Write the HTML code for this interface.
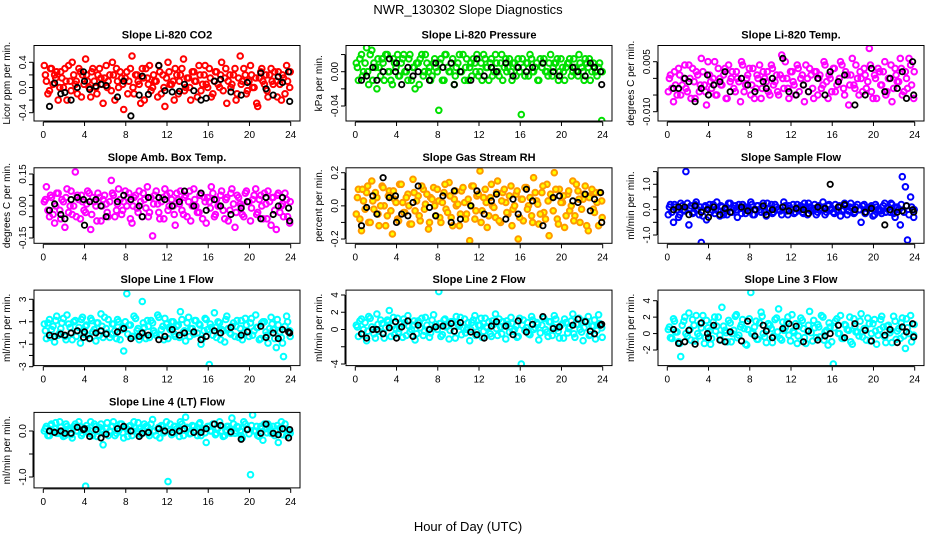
<!DOCTYPE html>
<html><head><meta charset="utf-8"><style>
html,body{margin:0;padding:0;background:#fff;}
svg{display:block;font-family:"Liberation Sans",Arial,sans-serif;}
</style></head><body>
<svg id="chart" width="936" height="540" viewBox="0 0 936 540">
<rect x="0" y="0" width="936" height="540" fill="#fff"/>
<text x="468" y="14" text-anchor="middle" font-size="13">NWR_130302  Slope Diagnostics</text>
<text x="468" y="531" text-anchor="middle" font-size="13">Hour of Day (UTC)</text>
</svg>
<script>
const hours=[0.1,0.3,0.6,0.8,1.1,1.3,1.6,1.8,2.1,2.3,2.6,2.8,3.1,3.3,3.6,3.8,4.1,4.3,4.6,4.8,5.1,5.3,5.6,5.8,6.1,6.3,6.6,6.8,7.1,7.3,7.6,7.8,8.1,8.3,8.6,8.8,9.1,9.3,9.6,9.8,10.1,10.3,10.6,10.8,11.1,11.3,11.6,11.8,12.1,12.3,12.6,12.8,13.1,13.3,13.6,13.8,14.1,14.3,14.6,14.8,15.1,15.3,15.6,15.8,16.1,16.3,16.6,16.8,17.1,17.3,17.6,17.8,18.1,18.3,18.6,18.8,19.1,19.3,19.6,19.8,20.1,20.3,20.6,20.8,21.1,21.3,21.6,21.8,22.1,22.3,22.6,22.8,23.1,23.3,23.6,23.9];
const hoursB=[0.2,0.45,0.7,0.95,1.2,1.45,1.7,1.95,2.2,2.45,2.7,2.95,3.2,3.45,3.7,3.95,4.2,4.45,4.7,4.95,5.2,5.45,5.7,5.95,6.2,6.45,6.7,6.95,7.2,7.45,7.7,7.95,8.2,8.45,8.7,8.95,9.2,9.45,9.7,9.95,10.2,10.45,10.7,10.95,11.2,11.45,11.7,11.95,12.2,12.45,12.7,12.95,13.2,13.45,13.7,13.95,14.2,14.45,14.7,14.95,15.2,15.45,15.7,15.95,16.2,16.45,16.7,16.95,17.2,17.45,17.7,17.95,18.2,18.45,18.7,18.95,19.2,19.45,19.7,19.95,20.2,20.45,20.7,20.95,21.2,21.45,21.7,21.95,22.2,22.45,22.7,22.95,23.2,23.45,23.7,23.95];
const blackHours=[0.6,1.1,1.7,2.1,2.7,3.3,3.9,4.0,4.5,5.1,5.6,6.1,7.2,7.8,8.5,9.3,9.6,10.2,11.2,11.8,12.5,13.2,13.7,14.6,15.3,15.8,16.6,17.2,18.2,19.2,19.8,21.1,21.6,22.3,22.8,23.2,23.8,23.9];
const xTicks=[0,4,8,12,16,20,24];
const co2=[0.35,0.1,-0.05,0.3,0.2,0.25,0.0,0.15,0.3,-0.2,0.1,0.4,0.05,-0.1,0.25,0.2,0.45,0.1,-0.15,0.3,0.0,0.2,0.15,-0.25,0.35,0.1,-0.05,0.2,0.3,0.0,0.15,-0.35,0.25,0.1,0.5,-0.1,0.2,0.05,0.3,-0.2,0.15,0.35,0.0,0.1,-0.15,0.25,0.2,-0.3,0.4,0.05,0.1,0.3,-0.1,0.2,0.45,0.0,0.15,-0.2,0.25,0.1,0.35,-0.05,0.2,0.05,0.3,-0.15,0.1,0.25,0.0,0.4,0.15,-0.25,0.2,0.05,0.3,-0.1,0.5,0.1,0.2,-0.05,0.35,0.0,0.15,-0.3,0.25,0.1,0.2,-0.15,0.3,0.05,0.1,0.25,-0.2,0.15,0.35,0.0];
const co2B=[0.2,-0.1,0.3,0.05,0.15,-0.2,0.25,0.0,0.1,0.35,-0.05,0.2,0.1,0.3,-0.15,0.05,0.2,0.0,0.25,0.1,-0.1,0.3,0.05,0.15,0.0,0.2,0.4,-0.2,0.1,0.25,0.05,0.15,-0.1,0.3,0.0,0.2,0.1,-0.25,0.15,0.3,0.05,-0.05,0.2,0.1,0.35,-0.1,0.0,0.15,0.25,0.05,-0.2,0.2,0.1,0.3,-0.05,0.15,0.0,0.25,0.1,-0.15,0.2,0.05,0.35,0.0,0.15,-0.1,0.25,0.05,0.2,-0.05,0.3,0.1,0.0,0.2,-0.2,0.15,0.05,0.3,-0.1,0.1,0.2,0.0,-0.25,0.15,0.3,0.05,-0.05,0.2,0.1,0.25,-0.15,0.05,0.2,-0.1,0.1,0.25];
const co2Black=[-0.3,0.07,-0.1,-0.08,-0.2,0.0,0.25,0.1,-0.03,0.02,0.05,0.03,-0.15,0.1,-0.45,-0.12,0.18,-0.11,0.35,-0.05,-0.07,-0.06,0.05,-0.05,-0.2,-0.17,0.1,0.13,-0.07,-0.12,0.08,0.23,-0.02,-0.12,0.17,0.08,0.25,-0.22];
const pres=[0.01,-0.01,0.02,0.0,0.028,-0.015,0.025,0.01,-0.02,0.005,0.015,-0.01,0.02,0.0,-0.015,0.01,0.02,-0.005,0.015,0.0,-0.01,0.02,0.005,-0.02,0.01,0.015,-0.005,0.02,0.0,-0.01,0.01,0.005,-0.045,0.015,-0.01,0.02,0.0,0.01,-0.015,0.005,0.02,0.0,-0.01,0.015,0.005,-0.005,0.01,0.02,0.0,-0.01,0.015,0.005,0.01,-0.005,0.02,0.0,0.01,-0.01,0.015,0.005,0.0,0.01,-0.005,0.015,-0.05,0.005,0.01,-0.005,0.015,0.0,0.01,-0.01,0.005,0.015,0.0,0.01,-0.005,0.01,0.015,0.0,0.005,-0.01,0.01,0.015,0.0,0.005,-0.005,0.01,0.0,0.015,0.005,-0.01,0.01,0.0,0.005,-0.057];
const presB=[0.005,0.015,-0.005,0.01,0.0,0.02,-0.01,0.005,0.015,-0.005,0.01,0.02,0.0,-0.01,0.015,0.005,-0.005,0.01,0.02,0.0,0.015,-0.01,0.005,0.01,-0.015,0.02,0.0,0.01,0.005,-0.005,0.015,0.0,0.01,-0.01,0.02,0.005,0.0,0.015,-0.005,0.01,0.0,0.02,0.005,-0.01,0.01,0.015,0.0,-0.005,0.01,0.02,0.005,-0.01,0.015,0.0,0.01,-0.005,0.02,0.005,0.0,0.015,-0.01,0.01,0.005,0.0,0.015,-0.005,0.01,0.02,0.0,0.005,-0.01,0.015,0.01,0.0,-0.005,0.02,0.005,0.01,-0.01,0.015,0.0,0.005,0.01,-0.005,0.015,0.0,0.02,0.005,-0.01,0.01,0.015,0.0,0.005,-0.005,0.01,0.0];
const presBlack=[-0.01,-0.005,0.005,-0.01,0.0,0.015,0.0,0.01,-0.015,0.005,-0.005,0.0,-0.01,0.01,0.005,0.01,-0.015,0.0,-0.01,0.015,-0.005,0.005,0.0,0.01,-0.005,0.005,0.0,0.005,0.01,0.0,-0.005,0.005,0.0,-0.005,0.01,0.005,0.0,-0.015];
const temp=[-0.004,0.001,-0.007,-0.002,0.003,-0.005,0.0,-0.003,0.004,-0.006,-0.001,0.002,-0.004,0.006,-0.002,-0.008,0.001,-0.003,0.005,-0.005,0.0,-0.002,0.003,-0.006,-0.001,0.002,-0.004,0.0,-0.007,0.004,-0.002,0.001,-0.005,0.003,-0.003,0.0,-0.006,0.002,-0.001,-0.004,0.004,-0.002,0.001,-0.005,0.007,-0.003,0.0,-0.006,0.002,-0.002,0.004,-0.004,0.001,-0.007,0.0,0.003,-0.003,0.002,-0.005,0.001,-0.002,0.004,-0.006,0.0,0.003,-0.004,-0.001,0.005,-0.003,0.002,-0.008,0.001,-0.002,0.004,-0.005,0.0,0.003,-0.003,0.009,-0.004,0.001,-0.006,0.002,-0.002,0.005,-0.004,0.0,-0.007,0.003,-0.001,0.006,-0.005,0.002,-0.003,0.004,-0.006];
const tempB=[0.0,-0.003,0.002,-0.005,0.001,-0.002,0.004,-0.004,0.0,0.003,-0.006,0.001,-0.002,0.002,-0.004,0.005,-0.001,0.0,-0.005,0.003,-0.002,0.001,-0.006,0.004,0.0,-0.003,0.002,-0.001,0.005,-0.004,0.0,0.003,-0.002,-0.006,0.001,0.004,-0.003,0.0,0.002,-0.005,0.003,-0.001,-0.004,0.001,0.0,0.005,-0.003,0.002,-0.001,-0.005,0.003,0.0,-0.002,0.004,-0.004,0.001,-0.006,0.002,0.0,-0.003,0.005,-0.001,0.001,-0.004,0.003,-0.002,0.0,0.004,-0.005,0.001,-0.002,0.006,-0.003,0.0,0.002,-0.004,0.001,-0.001,0.004,-0.006,0.0,0.003,-0.002,0.002,-0.005,0.0,0.004,-0.003,0.001,-0.001,0.003,-0.004,0.0,0.006,-0.002,0.002];
const tempBlack=[-0.003,-0.003,0.0,-0.001,-0.007,-0.003,0.001,-0.005,-0.002,-0.001,0.002,-0.004,0.0,-0.002,-0.004,-0.001,-0.003,0.0,0.006,-0.004,-0.005,-0.002,-0.004,0.0,-0.005,0.002,-0.001,0.001,-0.008,-0.005,0.003,-0.004,0.0,-0.003,0.002,-0.006,0.005,-0.005];
const amb=[0.02,0.09,-0.05,0.04,-0.08,0.06,-0.02,0.03,-0.1,0.08,0.0,-0.04,0.16,0.05,-0.06,0.02,-0.03,0.07,-0.11,0.04,0.0,0.06,-0.07,0.03,0.01,-0.05,0.12,0.05,-0.02,0.08,-0.04,0.02,0.0,0.06,-0.08,0.04,-0.01,0.07,-0.05,0.03,0.09,-0.03,-0.14,0.05,0.01,-0.06,0.04,0.08,-0.02,0.06,0.0,-0.09,0.03,0.07,-0.04,0.05,0.02,-0.07,0.08,0.0,-0.03,0.06,0.04,-0.08,0.02,0.09,-0.05,0.03,0.0,0.07,-0.06,0.04,-0.02,0.08,-0.1,0.05,0.01,-0.04,0.06,0.02,-0.07,0.03,0.08,-0.03,0.05,-0.06,0.01,0.07,-0.09,0.04,-0.11,0.06,0.0,-0.05,0.03,-0.08];
const ambB=[0.03,-0.02,0.05,-0.04,0.0,0.06,-0.06,0.02,0.04,-0.03,0.07,0.0,-0.05,0.03,0.05,-0.02,0.01,0.06,-0.04,0.02,-0.07,0.04,0.0,0.05,-0.03,0.02,0.06,-0.05,0.01,0.03,-0.02,0.07,0.04,-0.06,0.0,0.05,-0.03,0.02,0.06,-0.01,-0.05,0.04,0.01,0.07,-0.03,0.02,-0.06,0.05,0.0,0.03,-0.04,0.06,0.01,-0.02,0.04,-0.05,0.07,0.0,0.03,-0.03,0.05,-0.06,0.02,0.04,-0.01,0.06,-0.04,0.0,0.05,-0.02,0.03,-0.07,0.06,0.01,-0.03,0.04,0.0,-0.05,0.07,0.02,-0.01,0.05,-0.04,0.03,0.0,0.06,-0.06,0.02,0.04,-0.02,0.05,-0.03,0.01,0.06,-0.05,0.02];
const ambBlack=[-0.02,0.01,-0.04,-0.06,0.03,0.04,0.03,-0.09,0.02,0.03,0.0,-0.05,0.02,0.05,0.03,0.0,-0.05,0.04,0.04,0.03,0.0,0.02,0.07,0.0,0.06,-0.02,0.03,0.0,-0.04,-0.01,0.02,-0.06,0.04,-0.04,0.0,0.04,-0.01,-0.07];
const rh=[-0.05,0.1,-0.15,0.03,0.08,-0.1,0.15,-0.02,0.05,-0.12,0.12,0.0,-0.06,0.09,-0.17,0.04,-0.08,0.13,0.02,-0.04,0.07,-0.11,0.16,-0.03,0.06,-0.09,0.1,0.01,-0.14,0.05,0.11,-0.06,0.03,-0.1,0.08,-0.02,0.14,-0.07,0.04,0.0,-0.12,0.09,0.02,-0.05,-0.21,0.12,-0.08,0.06,0.21,-0.03,0.1,-0.13,0.05,0.0,-0.07,0.15,-0.1,0.08,0.02,-0.05,0.12,-0.02,0.07,-0.2,0.04,-0.09,0.11,0.0,-0.06,0.17,0.03,-0.11,0.08,-0.04,0.13,-0.18,0.05,0.2,-0.08,0.1,0.02,-0.13,0.07,-0.03,0.15,-0.06,0.09,-0.1,0.04,0.12,-0.15,0.06,-0.02,0.08,-0.12,0.03];
const rhB=[0.05,-0.08,0.1,-0.02,0.12,-0.1,0.03,0.08,-0.05,0.0,0.11,-0.12,0.06,-0.03,0.09,0.02,-0.09,0.13,-0.04,0.05,0.0,-0.11,0.08,0.03,-0.06,0.12,-0.02,0.07,-0.1,0.04,0.0,0.1,-0.07,0.02,0.13,-0.04,0.06,-0.12,0.09,0.01,-0.05,0.11,-0.08,0.04,0.0,0.12,-0.03,0.07,-0.1,0.05,0.02,-0.06,0.13,-0.01,0.08,-0.09,0.03,0.1,-0.04,0.06,-0.12,0.0,0.09,-0.07,0.04,0.11,-0.02,0.05,-0.1,0.08,0.01,-0.05,0.12,-0.08,0.03,0.07,-0.03,0.1,-0.11,0.02,0.06,-0.06,0.09,0.0,-0.09,0.13,0.04,-0.02,0.07,-0.12,0.05,0.1,-0.04,0.02,0.08,-0.07];
const rhBlack=[-0.12,-0.01,0.06,-0.05,0.17,0.05,0.06,-0.1,-0.05,-0.06,0.02,0.12,-0.01,-0.06,0.06,-0.1,0.09,-0.08,0.0,0.09,-0.05,0.03,0.07,-0.08,0.04,-0.05,0.1,0.03,-0.12,0.05,0.06,0.03,0.02,0.07,-0.03,0.04,0.08,-0.1];
const sflow=[-0.2,0.2,-0.5,0.1,-0.3,0.25,0.0,1.5,-0.6,0.15,-0.1,0.3,-0.2,-1.3,0.1,-0.4,0.2,0.0,-0.15,0.3,-0.25,0.1,0.0,-0.2,0.25,-0.1,0.15,-0.3,0.05,0.2,-0.15,0.1,0.3,-0.2,0.0,0.15,-0.1,0.25,-0.25,0.05,0.2,-0.1,0.1,0.0,-0.2,0.3,-0.05,0.15,0.0,-0.15,0.2,0.05,-0.1,0.25,-0.2,0.1,0.0,0.2,-0.1,0.05,0.3,-0.2,0.15,0.0,-0.1,0.2,0.1,-0.25,0.0,0.15,-0.05,0.25,-0.15,0.1,0.0,-0.5,0.2,-0.1,0.05,0.15,-0.2,0.1,0.0,-0.15,0.25,0.05,-0.1,0.2,-0.3,0.1,-0.6,1.3,0.9,-1.2,0.5,-0.3];
const sflowB=[0.1,-0.1,0.2,0.0,-0.2,0.15,-0.05,0.25,0.05,-0.15,0.2,0.0,0.1,-0.25,0.15,0.05,-0.1,0.2,0.0,-0.05,0.15,-0.2,0.1,0.25,-0.1,0.05,0.0,0.2,-0.15,0.1,0.05,-0.05,0.2,-0.2,0.15,0.0,0.1,-0.1,0.25,0.05,-0.15,0.2,0.0,-0.05,0.1,0.15,-0.2,0.05,0.2,-0.1,0.0,0.15,-0.15,0.1,0.25,-0.05,0.05,-0.2,0.15,0.0,0.1,-0.1,0.2,0.05,-0.15,0.0,0.15,-0.05,0.25,-0.2,0.1,0.05,-0.1,0.2,0.0,0.15,-0.15,0.05,0.1,-0.25,0.2,0.0,-0.05,0.15,-0.1,0.1,0.25,-0.15,0.05,0.0,0.2,-0.1,0.15,-0.2,0.1,0.0];
const sflowBlack=[0.0,0.1,0.1,-0.2,0.15,-0.1,0.0,-0.3,0.1,-0.2,0.05,-0.1,0.1,-0.05,0.0,0.15,-0.2,0.0,0.1,-0.05,0.05,0.0,-0.15,0.1,0.05,1.0,0.1,0.2,0.0,-0.1,0.05,-0.6,0.0,-0.1,-0.05,0.15,0.0,-0.1];
const line1=[0.8,-0.5,1.2,0.3,-0.8,1.5,0.0,0.9,-0.3,1.6,0.5,-0.6,1.1,0.2,-0.9,1.4,0.6,-0.2,1.3,0.1,-0.7,0.9,1.7,-0.4,0.4,1.2,-0.1,0.8,-0.5,1.0,0.3,-1.6,3.5,0.7,-0.3,1.5,0.2,-0.6,2.8,0.5,1.1,-0.4,0.9,0.0,1.6,-0.2,0.6,1.3,-0.5,0.3,1.0,-0.3,0.7,1.9,0.1,-0.7,1.4,0.4,-0.1,1.1,0.8,-1.0,0.2,1.2,-2.8,0.5,1.8,-0.4,0.9,0.3,-0.8,1.5,0.0,0.6,-0.3,1.1,0.4,-0.6,1.3,0.2,0.9,-0.2,1.6,0.5,-0.5,1.0,0.1,-0.9,1.4,0.3,-1.3,0.7,-0.4,-2.1,1.5,0.2];
const line1B=[0.2,0.9,-0.4,0.6,1.1,-0.2,0.4,1.3,-0.6,0.8,0.0,1.0,-0.3,0.5,1.2,-0.1,0.7,-0.5,1.1,0.3,0.9,-0.2,0.6,1.4,0.0,-0.4,0.8,0.2,1.2,-0.6,0.5,1.0,-0.1,0.7,-0.3,1.3,0.4,0.0,0.9,-0.5,0.6,1.1,0.2,-0.2,1.4,0.3,-0.6,0.8,0.5,1.0,-0.1,0.6,-0.4,1.2,0.2,0.9,-0.3,0.4,1.1,0.0,0.7,-0.5,1.3,0.3,0.8,-0.2,0.5,1.0,-0.6,0.2,1.2,0.4,-0.1,0.9,0.6,-0.4,1.1,0.0,0.7,-0.3,1.3,0.2,0.5,-0.6,0.9,1.0,-0.2,0.4,0.8,-0.5,1.2,0.1,-0.9,0.6,1.0,-0.3];
const line1Black=[-0.2,-0.3,-0.1,-0.2,0.0,0.2,-0.4,0.1,-0.5,0.0,0.2,-0.1,0.1,0.4,-0.5,-0.3,0.0,-0.2,-0.6,-0.3,0.3,-0.2,0.0,0.1,-0.6,-0.3,0.2,0.0,0.5,-0.2,0.1,0.6,-0.4,0.0,-0.5,0.3,0.1,0.0];
const line2=[0.5,-0.8,1.2,0.0,-1.3,1.5,0.3,-0.5,1.8,-0.2,0.7,-1.0,1.1,2.2,0.4,-0.6,1.3,0.1,-0.9,0.8,1.6,-0.3,0.5,-1.2,1.0,0.2,-0.7,1.4,0.0,-0.4,1.7,0.6,4.4,-0.8,1.1,0.3,-1.1,0.9,-0.2,1.5,0.4,-0.6,1.2,0.0,-1.3,0.8,1.6,-0.3,0.5,-0.9,1.3,0.2,-0.5,1.0,1.8,-0.7,0.3,0.9,-1.1,0.6,1.4,-0.2,0.4,-0.8,-4.0,1.1,0.2,-0.5,1.5,0.0,0.8,-1.2,0.5,1.3,-0.3,0.9,-0.7,1.6,0.2,-1.0,0.7,1.2,-0.4,0.3,1.8,-0.9,0.6,0.0,-1.3,1.0,1.5,-0.6,0.4,-1.1,1.7,0.2];
const line2B=[0.3,1.0,-0.6,0.8,-0.2,1.3,0.0,-1.0,0.6,1.1,-0.4,0.2,0.9,-0.8,1.4,0.1,-0.3,0.7,1.2,-0.7,0.4,0.0,1.0,-0.5,0.8,1.3,-0.2,0.5,-0.9,1.1,0.3,0.0,0.7,-0.6,1.2,0.4,-0.1,0.9,-1.0,0.6,1.4,0.2,-0.4,0.8,0.0,1.1,-0.7,0.5,1.3,-0.2,0.3,0.9,-0.8,0.6,0.1,1.2,-0.5,0.4,1.0,-0.3,0.7,0.0,-0.9,1.3,0.5,-0.1,0.8,-0.6,1.1,0.2,0.6,-0.4,1.4,0.0,-0.8,0.9,0.3,1.2,-0.2,0.5,-1.0,0.8,0.1,1.0,-0.5,0.6,1.3,-0.3,0.2,0.9,-0.7,0.4,1.1,-0.1,0.7,-0.9];
const line2Black=[-0.5,-1.0,0.0,0.0,-0.5,0.2,0.9,-1.0,0.3,1.0,-0.8,0.5,0.0,0.3,0.4,0.7,-0.2,0.8,-0.3,-0.6,-1.0,0.4,0.9,0.4,-0.6,1.0,-0.3,0.6,1.5,0.1,0.3,0.5,1.2,0.9,-0.2,-0.5,0.5,0.6];
const line3=[0.5,-0.5,1.8,0.2,-1.0,-2.8,1.5,0.0,2.5,-0.8,1.0,2.2,-0.3,0.7,-1.2,1.6,0.3,-0.6,2.0,0.9,-0.2,3.2,0.4,-1.0,1.3,0.0,2.1,-0.5,0.8,1.7,-1.3,0.5,5.0,0.2,1.5,-0.7,2.6,0.0,-1.1,1.2,0.6,-0.3,1.9,3.0,-0.8,0.4,1.4,-0.2,2.3,0.1,-1.2,0.9,1.6,-0.5,0.3,2.7,-0.9,0.7,1.1,-0.4,2.0,0.2,-1.4,0.8,-3.7,1.5,0.0,2.2,-0.6,1.0,0.4,-1.0,1.8,0.2,-0.3,2.4,0.6,-0.8,1.2,0.0,1.7,-1.3,0.5,2.1,-0.4,0.9,0.1,-1.1,1.5,0.3,-0.6,1.9,-1.8,0.7,2.2,-0.2];
const line3B=[0.8,-0.6,1.5,0.2,-1.2,1.0,2.0,-0.3,0.5,1.7,-0.9,0.0,1.2,2.2,-0.5,0.7,-1.3,1.4,0.3,2.0,-0.8,0.9,0.1,1.6,-1.0,0.4,2.3,-0.2,1.1,0.6,-1.4,1.8,0.0,0.8,-0.7,1.3,2.1,-0.4,0.5,1.0,-1.1,1.7,0.2,-0.6,1.4,0.7,2.0,-0.9,0.3,1.2,-0.3,1.9,0.6,-1.2,1.0,0.1,1.6,-0.5,0.8,2.2,-0.8,0.4,1.3,-1.0,0.7,1.8,0.0,-0.6,1.1,0.5,2.0,-1.3,0.9,0.2,1.5,-0.4,0.6,1.9,-0.9,1.2,0.3,-0.2,1.7,0.8,-1.1,1.0,0.4,2.1,-0.7,0.6,1.3,-0.3,1.8,0.0,-1.0,1.1];
const line3Black=[0.5,-1.2,-1.0,0.4,-1.3,1.3,0.0,-0.5,1.0,-0.8,-1.0,0.2,-0.9,1.5,-0.3,1.0,0.3,-0.5,0.6,1.2,0.9,-1.0,0.3,-0.8,-0.3,0.0,1.0,-0.5,1.2,0.4,-0.9,-0.2,0.5,-1.1,0.8,0.2,1.2,-0.4];
const line4=[0.0,0.1,-0.1,0.15,0.05,-0.05,0.2,0.0,-0.1,0.1,0.05,-0.15,0.15,0.0,0.1,-0.05,-1.2,0.05,0.2,-0.1,0.1,0.0,0.15,-0.3,0.05,-0.1,0.1,0.2,-0.05,0.0,0.15,-0.15,0.05,0.1,-0.1,0.2,0.0,0.05,-0.05,0.15,0.1,-0.1,0.25,0.0,0.05,-0.15,0.1,0.0,-1.1,0.15,-0.05,0.1,0.0,0.2,-0.1,0.3,0.05,-0.05,0.1,0.0,0.15,-0.1,0.05,-0.25,0.1,0.0,0.15,-0.05,0.2,0.0,-0.1,0.1,0.05,0.28,-0.05,0.1,0.0,-0.15,0.15,0.05,-0.95,0.35,0.0,-0.1,0.1,-0.2,0.05,0.15,-0.05,0.1,0.0,-0.25,0.2,0.05,-0.1,0.0];
const line4B=[0.05,-0.1,0.12,0.0,0.18,-0.05,0.08,-0.12,0.15,0.02,-0.08,0.1,0.0,0.2,-0.1,0.06,0.12,-0.05,0.0,0.15,-0.12,0.08,0.02,-0.06,0.18,0.0,0.1,-0.1,0.05,0.15,-0.04,0.08,-0.12,0.12,0.0,0.06,0.18,-0.08,0.02,0.1,-0.05,0.15,0.0,-0.1,0.08,0.12,-0.04,0.2,0.0,-0.08,0.1,0.05,-0.12,0.15,0.02,0.08,-0.06,0.12,0.0,-0.1,0.18,0.05,-0.04,0.1,0.0,0.15,-0.08,0.06,0.12,-0.12,0.02,0.1,-0.05,0.15,0.0,0.08,-0.1,0.2,0.04,-0.06,0.12,0.0,0.1,-0.12,0.05,0.15,-0.04,0.08,0.0,-0.1,0.12,0.06,-0.08,0.15,0.02,-0.05];
const line4Black=[0.0,-0.03,0.0,-0.05,-0.05,0.08,0.03,0.05,-0.12,0.03,-0.15,-0.07,0.05,0.1,0.0,-0.12,-0.05,-0.03,0.05,0.0,-0.03,0.0,0.05,-0.03,-0.03,0.05,0.15,0.12,-0.02,-0.18,0.03,-0.05,0.15,-0.05,-0.08,0.05,-0.15,0.03];
const panelTitles=["Slope Li-820 CO2","Slope Li-820 Pressure","Slope Li-820 Temp.","Slope Amb. Box Temp.","Slope Gas Stream RH","Slope Sample Flow","Slope Line 1 Flow","Slope Line 2 Flow","Slope Line 3 Flow","Slope Line 4 (LT) Flow"];
const yTitles=["Licor ppm per min.","kPa per min.","degrees C per min.","degrees C per min.","percent per min.","ml/min per min.","ml/min per min.","ml/min per min.","ml/min per min.","ml/min per min."];
const yTickSets=[[-0.4,-0.2,0,0.2,0.4],[-0.04,-0.02,0,0.02],[-0.01,-0.005,0,0.005],[-0.15,-0.1,-0.05,0,0.05,0.1,0.15],[-0.2,-0.1,0,0.1,0.2],[-1,-0.5,0,0.5,1,1.5],[-3,-2,-1,0,1,2,3],[-4,-2,0,2,4],[-2,0,2,4],[-1,-0.5,0]];
const yLabelSets=[["-0.4","0.0","0.4"],["-0.04","0.00"],["-0.010","0.005"],["-0.15","0.00","0.15"],["-0.2","0.0","0.2"],["-1.0","0.0","1.0"],["-3","-1","1","3"],["-4","0","2","4"],["-2","0","2","4"],["-1.0","0.0"]];
const colored=[co2,pres,temp,amb,rh,sflow,line1,line2,line3,line4];
const coloredB=[co2B,presB,tempB,ambB,rhB,sflowB,line1B,line2B,line3B,line4B];
const blacks=[co2Black,presBlack,tempBlack,ambBlack,rhBlack,sflowBlack,line1Black,line2Black,line3Black,line4Black];
// axis calibration (layout): [value, row-relative px, value, row-relative px]
const yCal=[[0.4,62.3,-0.4,112.7],[0,71.7,-0.04,106],[0.005,61.7,-0.01,111.7],[0.15,51.7,-0.15,115.7],[0.2,50.4,-0.2,116.7],[1,62,-1,112.7],[3,54.7,-3,122.1],[4,50.4,-4,119.4],[4,56.1,-2,105.4],[0,64.1,-1,110.1]];
const strokes=["#ff0000","#00e000","#ff00ff","#ff00ff","#ff9900","#0000ff","#00ffff","#00ffff","#00ffff","#00ffff"];
const fills=["none","none","none","none","#ffff00","none","none","none","none","none"];

const NS="http://www.w3.org/2000/svg";
const svg=document.getElementById('chart');
function mk(tag,attrs,parent){const e=document.createElementNS(NS,tag);for(const k in attrs)e.setAttribute(k,attrs[k]);(parent||svg).appendChild(e);return e;}

for(let p=0;p<10;p++){
  const row=Math.floor(p/3),col=p%3;
  const L=34+col*312, W=266, rowOff=row*122.3, T=45.5+rowOff, H=75.5;
  const xs=h=>L+9.3+h*(247.4/24);
  const c=yCal[p];
  const ys=v=>rowOff+c[1]+(v-c[0])*(c[3]-c[1])/(c[2]-c[0]);
  const g=mk('g',{});
  
  
  const clipId='clip'+p;
  const cp=mk('clipPath',{id:clipId},g);
  mk('rect',{x:L,y:T,width:W,height:H},cp);
  const t=mk('text',{x:L+W/2,y:T-7,'text-anchor':'middle','font-size':11,'font-weight':'bold'},g);
  t.textContent=panelTitles[p];
  
  
  const pts=mk('g',{'clip-path':'url(#'+clipId+')'},g);
  
  
  const series=[[hours,colored[p]],[hoursB,coloredB[p]]];
  series.forEach(s=>{
    const hs=s[0],vals=s[1];
    for(let i=0;i<Math.min(vals.length,hs.length);i++){
      const cc=mk('circle',{cx:xs(hs[i]).toFixed(1),cy:ys(vals[i]).toFixed(1),r:2.8,fill:fills[p],stroke:strokes[p],'stroke-width':2},pts);
      
      
    }
  });
  const bv=blacks[p];
  for(let i=0;i<Math.min(bv.length,blackHours.length);i++){
    const cc=mk('circle',{cx:xs(blackHours[i]).toFixed(1),cy:ys(bv[i]).toFixed(1),r:2.7,fill:'none',stroke:'#000','stroke-width':1.8},pts);
    
    
  }
  const box=mk('rect',{x:L,y:T,width:W,height:H,fill:'none',stroke:'#000','stroke-width':1},g);
  
  
  const xa=mk('g',{},g);
  
  
  const ay=T+H+1;
  mk('line',{x1:xs(xTicks[0]),x2:xs(xTicks[xTicks.length-1]),y1:ay,y2:ay,stroke:'#000'},xa);
  xTicks.forEach(v=>{
    mk('line',{x1:xs(v),x2:xs(v),y1:ay,y2:ay+4,stroke:'#000'},xa);
    const tl=mk('text',{x:xs(v),y:ay+16,'text-anchor':'middle','font-size':10},xa);
    tl.textContent=v;
    
    
  });
  const ya=mk('g',{},g);
  
  
  const tk=yTickSets[p];
  mk('line',{x1:L-1,x2:L-1,y1:ys(tk[0]),y2:ys(tk[tk.length-1]),stroke:'#000'},ya);
  tk.forEach(v=>{mk('line',{x1:L-5,x2:L-1,y1:ys(v),y2:ys(v),stroke:'#000'},ya);});
  yLabelSets[p].forEach(s=>{
    const v=parseFloat(s),yy=ys(v);
    const tl=mk('text',{x:L-8,y:yy,'text-anchor':'middle','font-size':10,transform:'rotate(-90 '+(L-8)+' '+yy+')'},ya);
    tl.textContent=s;
    
    
  });
  const ym=T+H/2;
  const yt=mk('text',{x:L-24,y:ym,'text-anchor':'middle','font-size':10,transform:'rotate(-90 '+(L-24)+' '+ym+')'},g);
  yt.textContent=yTitles[p];
  
  
}
</script>
</body></html>
